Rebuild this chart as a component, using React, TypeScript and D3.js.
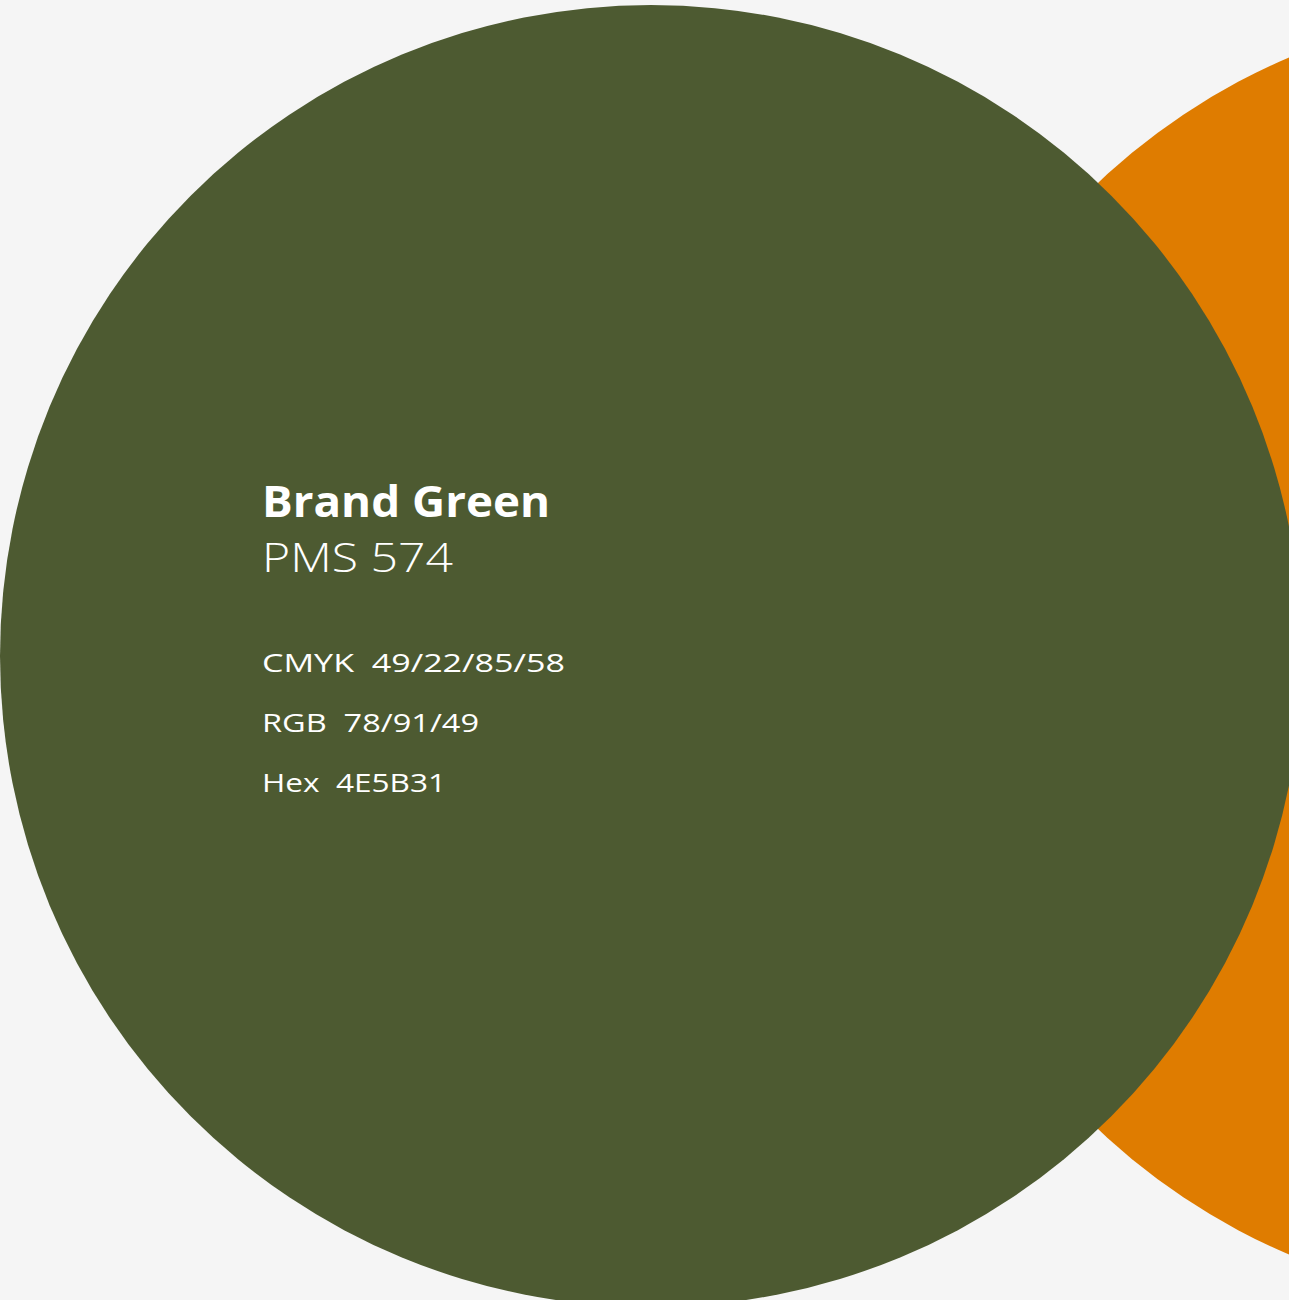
import React, { useEffect } from "react";
import * as d3 from "d3";

const W = 1289;
const H = 1300;

const swatchNames = ["Brand Green", "Brand Orange"];
const swatchColors = ["#4D5A31", "#DF7C00"];
const swatchCentersX = [651, 1545];
const swatchRadius = 651;
const swatchCenterY = 656;

const titleText = "Brand Green";
const pmsText = "PMS 574";
const specLabels = ["CMYK", "RGB", "Hex"];
const specValues = ["49/22/85/58", "78/91/49", "4E5B31"];
const specWidths = [303, 217, 184];

export default function App() {
  useEffect(() => {
    document.body.style.margin = "0";
    document.body.style.background = "#F5F5F5";
  }, []);

  const specY = d3.scaleLinear().domain([0, 1]).range([672, 732]);
  const font = "'Open Sans', 'Liberation Sans', sans-serif";

  // draw orange first, green on top
  const order = d3.range(swatchNames.length).reverse();

  return (
    <svg width={W} height={H} style={{ display: "block", position: "absolute", left: 0, top: 0 }}>
      <rect x={0} y={0} width={W} height={H} fill="#F5F5F5" />
      {order.map((i) => (
        <circle
          key={swatchNames[i]}
          cx={swatchCentersX[i]}
          cy={swatchCenterY}
          r={swatchRadius}
          fill={swatchColors[i]}
        />
      ))}
      <g fill="#FFFFFF" fontFamily={font}>
        <text x={262} y={517} fontSize={43} fontWeight={700} textLength={288} lengthAdjust="spacingAndGlyphs">
          {titleText}
        </text>
        <text x={262} y={572} fontSize={41} fontWeight={300} textLength={191} lengthAdjust="spacingAndGlyphs">
          {pmsText}
        </text>
        {specLabels.map((lab, i) => (
          <text
            key={lab}
            x={262}
            y={specY(i)}
            fontSize={26}
            fontWeight={400}
            textLength={specWidths[i]}
            lengthAdjust="spacingAndGlyphs"
            style={{ whiteSpace: "pre" }}
          >
            {lab + "  " + specValues[i]}
          </text>
        ))}
      </g>
    </svg>
  );
}
